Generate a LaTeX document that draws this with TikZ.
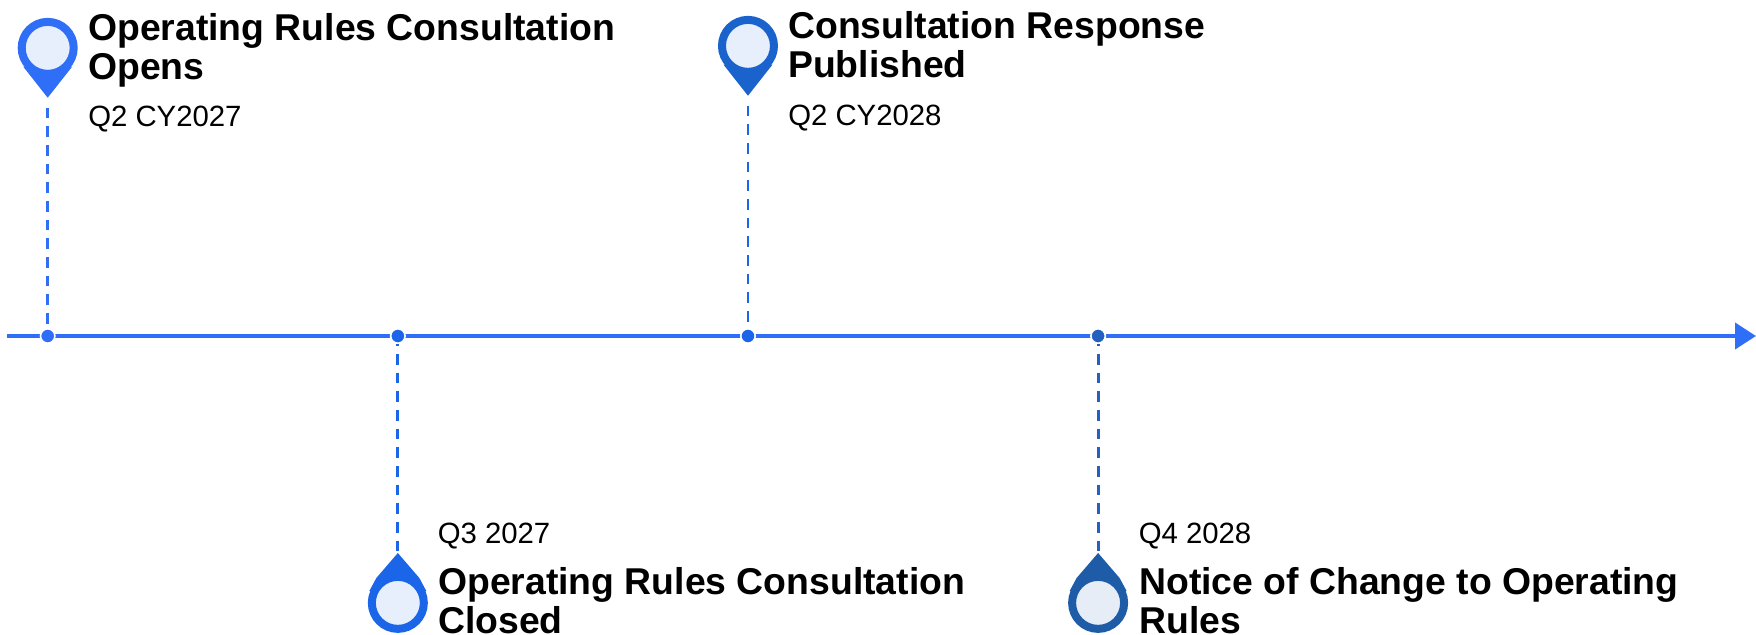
\documentclass[tikz,border=0pt]{standalone}
\usepackage{fontspec}
\setmainfont{Liberation Sans}
\usepackage{tikz}
\usetikzlibrary{arrows.meta,positioning,calc,shapes}
\definecolor{axisblue}{HTML}{2F6EF6}
\definecolor{pinone}{HTML}{2F6EF6}
\definecolor{pintwo}{HTML}{1B66E8}
\definecolor{pinthree}{HTML}{1A62CC}
\definecolor{pinfour}{HTML}{1F5CA8}
\definecolor{faceone}{HTML}{E8EFFC}
\definecolor{facefour}{HTML}{E6EDF6}
\tikzstyle{tick} = [draw=white, fill=axisblue, circle, inner sep=0pt, minimum size=10.8pt, line width=1.2pt, node distance=262.6pt]
\tikzstyle{pinhead} = [draw, circle, inner sep=0pt, minimum size=39pt, line width=6pt, node distance=37.4pt]
\tikzstyle{drop} = [dashed, dash pattern=on 8pt off 6pt, line width=2.2pt]
\tikzstyle{title} = [anchor=base west, align=left, inner sep=0pt, font=\bfseries\fontsize{28}{29.25}\selectfont]
\tikzstyle{date} = [anchor=base west, inner sep=0pt, font=\fontsize{22}{25}\selectfont]
\begin{document}
\begin{tikzpicture}[x=0.75pt,y=-0.75pt]
    \useasboundingbox (0,0) rectangle (1756,635);
    % The axis goes first so that the ticks sit on top of it
    \coordinate (start) at (7,336);
    \coordinate (end) at (1756,336);
    \draw [axisblue, line width=3pt, -{Triangle[length=15.75pt,width=19.5pt]}] (start) -- (end);
    \node [tick] (tick1) at (47.7,336) {};
    \node [tick, fill=pintwo, right of=tick1] (tick2) {};
    \node [tick, fill=pintwo, right of=tick2] (tick3) {};
    \node [tick, fill=pinfour!70!axisblue, right of=tick3] (tick4) {};
    % Pin tips hang off the ticks, the heads then cover their inner ends
    \coordinate [above of=tick1, node distance=178.7pt] (tip1);
    \coordinate [below of=tick2, node distance=162.75pt] (tip2);
    \coordinate [above of=tick3, node distance=180.2pt] (tip3);
    \coordinate [below of=tick4, node distance=162.75pt] (tip4);
    \fill [pinone] (tip1) -- ++(-24.4,-31) -- ++(48.8,0) -- cycle;
    \fill [pintwo] (tip2) -- ++(-21.5,25) -- ++(-7,13) -- ++(57,0) -- ++(-7,-13) -- cycle;
    \fill [pinthree] (tip3) -- ++(-24.4,-31) -- ++(48.8,0) -- cycle;
    \fill [pinfour] (tip4) -- ++(-21.5,25) -- ++(-7,13) -- ++(57,0) -- ++(-7,-13) -- cycle;
    \node [pinhead, draw=pinone, fill=faceone, above of=tip1] (pin1) {};
    \node [pinhead, draw=pintwo, fill=faceone, below of=tip2] (pin2) {};
    \node [pinhead, draw=pinthree, fill=faceone, above of=tip3] (pin3) {};
    \node [pinhead, draw=pinfour, fill=facefour, below of=tip4] (pin4) {};
    % Dashed drops
    \draw [drop, pinone] (tip1) ++(0,10) -- (tick1);
    \draw [drop, pintwo, dash phase=6.5pt] (tick2) -- (tip2);
    \draw [drop, pintwo] (tip3) ++(0,10) -- (tick3);
    \draw [drop, pinfour!70!axisblue, dash phase=6.5pt] (tick4) -- (tip4);
    % Labels
    \node [title] (title1) at (88,79.5) {Operating Rules Consultation\\Opens};
    \node [date] (date1) at (88,127) {Q2 CY2027};
    \node [title] (title2) at (438,633.5) {Operating Rules Consultation\\Closed};
    \node [date] (date2) at (437.5,543) {Q3 2027};
    \node [title] (title3) at (788,77.5) {Consultation Response\\Published};
    \node [date] (date3) at (788,125) {Q2 CY2028};
    \node [title] (title4) at (1139,633.5) {Notice of Change to Operating\\Rules};
    \node [date] (date4) at (1138.5,543) {Q4 2028};
\end{tikzpicture}
\end{document}
